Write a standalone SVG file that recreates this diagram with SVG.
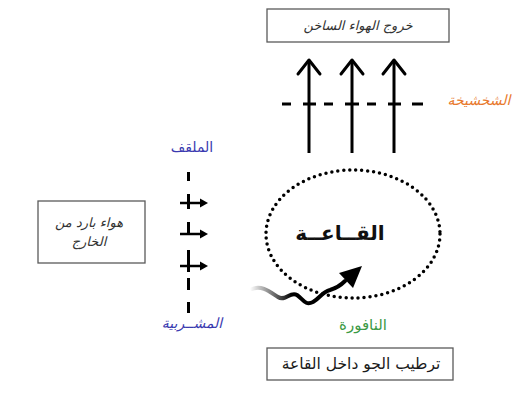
<svg xmlns="http://www.w3.org/2000/svg" width="521" height="413" viewBox="0 0 521 413">
  <style>
    .box { fill: #ffffff; stroke: #5a5a5a; stroke-width: 1.3; }
    .lbl { font-family: "DejaVu Sans", sans-serif; text-anchor: middle; dominant-baseline: central; }
    .note { font-size: 13px; font-style: italic; fill: #333333; }
    .stem { stroke: #000000; stroke-width: 3; fill: none; }
    .head { stroke: #000000; stroke-width: 3; fill: none; stroke-linecap: round; stroke-linejoin: round; }
    .dash { stroke: #000000; stroke-width: 3; }
    .flow { stroke: #000000; stroke-width: 2.5; }
  </style>
  <defs>
    <linearGradient id="fade" gradientUnits="userSpaceOnUse" x1="250" y1="0" x2="292" y2="0">
      <stop offset="0" stop-color="#000000" stop-opacity="0"/>
      <stop offset="1" stop-color="#000000" stop-opacity="1"/>
    </linearGradient>
  </defs>

  <rect width="521" height="413" fill="#ffffff"/>

  <!-- hot air outlet -->
  <g id="outlet">
    <rect class="box" x="267" y="9" width="182" height="33"/>
    <text class="lbl note" x="358" y="25">خروج الهواء الساخن</text>
  </g>

  <!-- wind catcher grille label -->
  <g id="grille">
    <text class="lbl" x="479" y="100" font-size="14" font-style="italic" fill="#e8782c">الشخشيخة</text>
  </g>

  <!-- cold air inlet -->
  <g id="inlet">
    <rect class="box" x="38" y="201" width="107" height="62"/>
    <text class="lbl note" x="89" y="222">هواء بارد من</text>
    <text class="lbl note" x="89" y="241">الخارج</text>
  </g>

  <!-- malqaf and mashrabiya labels -->
  <g id="malqaf">
    <text class="lbl" x="192" y="147" font-size="14" fill="#3a3ab0">الملقف</text>
  </g>
  <g id="mashrabiya">
    <text class="lbl" x="192" y="323" font-size="14" font-style="italic" fill="#3a3ab0">المشــربية</text>
  </g>

  <!-- hall -->
  <g id="hall">
    <ellipse cx="353" cy="234" rx="87" ry="64" fill="none" stroke="#000000" stroke-width="3.5" stroke-linecap="round" stroke-dasharray="0 6"/>
    <text class="lbl" x="340" y="233" font-size="20" font-weight="bold" fill="#111111">القــاعــة</text>
  </g>

  <!-- fountain -->
  <g id="fountain">
    <text class="lbl" x="363" y="325" font-size="15" fill="#3c9a45">النافورة</text>
  </g>

  <!-- result -->
  <g id="result">
    <rect class="box" x="267" y="348" width="186" height="32"/>
    <text class="lbl" x="361" y="364" font-size="15.5" fill="#1a1a1a">ترطيب الجو داخل القاعة</text>
  </g>

  <g id="connectors">
    <!-- rising hot air through the grille -->
    <line class="stem" x1="309" y1="153" x2="309" y2="61"/>
    <line class="stem" x1="352" y1="153" x2="352" y2="61"/>
    <line class="stem" x1="394" y1="153" x2="394" y2="61"/>
    <polyline class="head" points="298,74 309,60 320,74"/>
    <polyline class="head" points="341,74 352,60 363,74"/>
    <polyline class="head" points="383,74 394,60 405,74"/>
    <g class="dash">
      <line x1="282" y1="104" x2="291" y2="104"/>
      <line x1="303" y1="104" x2="316" y2="104"/>
      <line x1="324" y1="104" x2="333" y2="104"/>
      <line x1="345" y1="104" x2="359" y2="104"/>
      <line x1="367" y1="104" x2="376" y2="104"/>
      <line x1="388" y1="104" x2="401" y2="104"/>
      <line x1="412" y1="104" x2="423" y2="104"/>
    </g>

    <!-- malqaf / mashrabiya wall with incoming air -->
    <g class="dash">
      <line x1="188.5" y1="172" x2="188.5" y2="181"/>
      <line x1="188.5" y1="194" x2="188.5" y2="209"/>
      <line x1="188.5" y1="222" x2="188.5" y2="235"/>
      <line x1="188.5" y1="250" x2="188.5" y2="272"/>
      <line x1="188.5" y1="278" x2="188.5" y2="290"/>
      <line x1="188.5" y1="302" x2="188.5" y2="313"/>
    </g>
    <line class="flow" x1="180" y1="203" x2="201" y2="203"/>
    <polygon points="200,198.5 208,203 200,207.5"/>
    <line class="flow" x1="180" y1="234" x2="201" y2="234"/>
    <polygon points="200,229.5 208,234 200,238.5"/>
    <line class="flow" x1="180" y1="266" x2="201" y2="266"/>
    <polygon points="200,261.5 208,266 200,270.5"/>

    <!-- wavy stream from the fountain -->
    <path d="M252,289 C262,285 270,292 278,297 C285,302 290,291 297,295 C303,299 305,306 313,302 C320,298 322,292 330,290 C337,288 341,285 345,281" fill="none" stroke="url(#fade)" stroke-width="4" stroke-linecap="round"/>
    <polygon points="362,266 339,273 353,288"/>
  </g>
</svg>
